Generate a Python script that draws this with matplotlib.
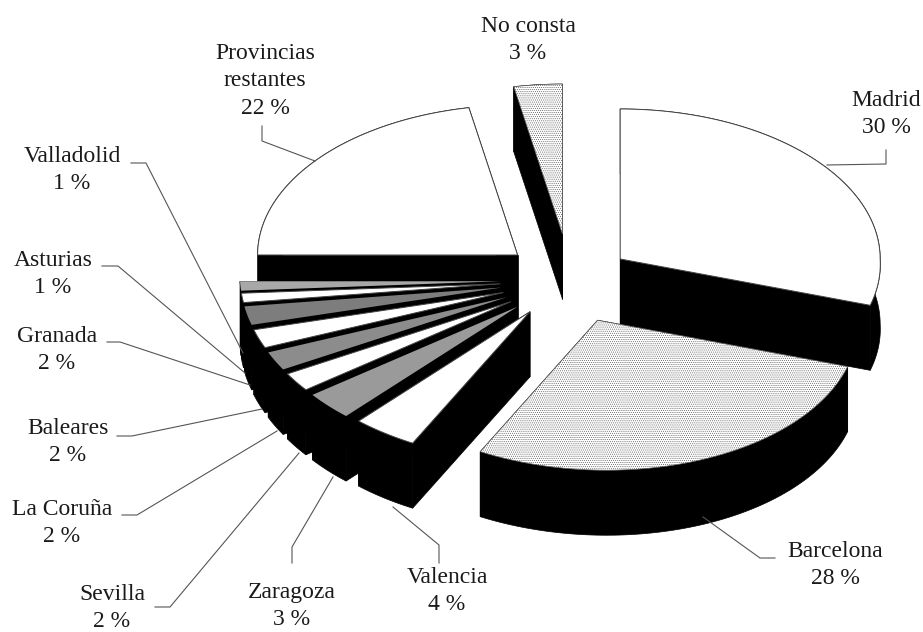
import numpy as np
import matplotlib
matplotlib.use("Agg")
import matplotlib.pyplot as plt

# data, clockwise from 12 o'clock
names = ['Madrid', 'Barcelona', 'Valencia', 'Zaragoza', 'Sevilla', 'La Coruña',
         'Baleares', 'Granada', 'Asturias', 'Valladolid', 'Provincias\nrestantes', 'No consta']
values = [30, 28, 4, 3, 2, 2, 2, 2, 1, 1, 22, 3]

# pie geometry in pixels
cx, cy = 570, 280
rx, ry = 260, 150
depth = 65
lean = 0.06  # front of the pie is drawn a bit narrower
explode = [62, 75, 68, 70, 70, 70, 70, 70, 70, 70, 68, 80]
faces = ['white', 'stip', 'white', '#9a9a9a', 'white', '#8c8c8c', 'white', '#7d7d7d',
         'white', '#a8a8a8', 'white', 'stip']
draw_order = [11, 0, 10, 9, 8, 7, 6, 5, 4, 3, 2, 1]

# label centres and leader lines
label_pos = [(886, 114), (835, 565), (447, 591), (292, 606), (112, 608), (62, 523),
             (68, 442), (57, 350), (53, 274), (72, 170), (265, 81), (528, 40)]
leaders = [[(886, 150), (886, 164), (827, 165)],
           [(775, 558), (760, 558), (703, 517)],
           [(439, 563), (439, 545), (393, 507)],
           [(292, 563), (292, 547), (333, 477)],
           [(155, 607), (170, 607), (299, 453)],
           [(122, 515), (137, 515), (277, 431)],
           [(117, 436), (132, 436), (262, 409)],
           [(107, 342), (120, 342), (250, 385)],
           [(102, 266), (118, 266), (245, 373)],
           [(131, 163), (146, 163), (243, 353)],
           [(262, 126), (262, 141), (315, 161)],
           None]

plt.rcParams['hatch.linewidth'] = 0.4
plt.rcParams['hatch.color'] = '#777777'

fig = plt.figure(figsize=(9.23, 6.32), dpi=100)
ax = fig.add_axes([0, 0, 1, 1])
ax.set_xlim(0, 923)
ax.set_ylim(632, 0)
ax.axis('off')

edges = 90 - 3.6 * np.concatenate([[0], np.cumsum(values)])


def slice_outline(i):
    a0, a1 = np.radians(edges[i]), np.radians(edges[i + 1])
    mid = (a0 + a1) / 2
    tx = cx + explode[i] * np.cos(mid)
    ty = cy - explode[i] * np.sin(mid) * ry / rx
    t = np.linspace(a0, a1, max(6, int(values[i] * 4)))
    dy = -ry * np.sin(t)
    xs = tx + rx * np.cos(t) + lean * np.clip(dy, 0, None)
    ys = ty + dy
    return tx, ty, xs, ys


for i in draw_order:
    tx, ty, xs, ys = slice_outline(i)
    # sides first, all black
    ax.fill(np.r_[xs, xs[::-1]], np.r_[ys, ys[::-1] + depth], color='black', lw=0.5)
    for j in (0, -1):
        ax.fill([tx, xs[j], xs[j], tx], [ty, ys[j], ys[j] + depth, ty + depth],
                color='black', lw=0.5)
    top_x, top_y = np.r_[tx, xs], np.r_[ty, ys]
    if faces[i] == 'stip':
        ax.fill(top_x, top_y, facecolor='white', edgecolor='#555555', hatch='........', lw=0.5)
    else:
        ax.fill(top_x, top_y, facecolor=faces[i],
                edgecolor='#444444' if faces[i] == 'white' else 'none', lw=0.7)

for name, v, pos, line in zip(names, values, label_pos, leaders):
    ax.text(pos[0], pos[1], f'{name}\n{v} %', ha='center', va='center',
            fontsize=17, family='Liberation Serif', color='#1a1a1a', linespacing=1.4)
    if line:
        ax.plot(*zip(*line), color='#555555', lw=0.8)

fig.savefig('out.png', dpi=100)
